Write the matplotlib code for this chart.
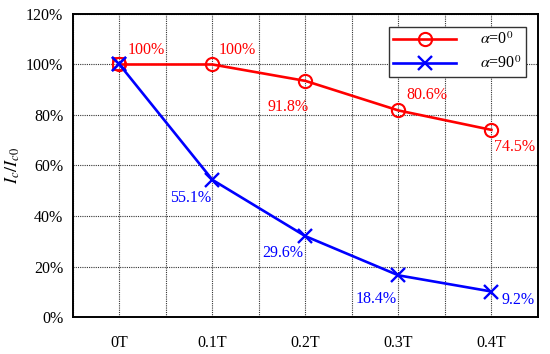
import matplotlib
matplotlib.use("Agg")
import matplotlib.pyplot as plt
from matplotlib.ticker import MultipleLocator, FuncFormatter
import numpy as np

plt.rcParams.update({
    'font.family'     : ['Liberation Serif', 'DejaVu Serif'],
    'font.size'       : 11.5,
    'mathtext.fontset': 'stix',
})

# data
fields     = ["0T", "0.1T", "0.2T", "0.3T", "0.4T"]
ratio_0    = [100.0, 100.0, 93.5, 81.8, 74.1]
ratio_90   = [100.0, 54.3, 32.0, 16.5, 10.1]
labels_0   = ["100%", "100%", "91.8%", "80.6%", "74.5%"]
labels_90  = [None, "55.1%", "29.6%", "18.4%", "9.2%"]

# label offsets (pixels) relative to each point
offs_0  = [(27, 14), (25, 14), (-17, -26), (28, 15), (23, -17)]
offs_90 = [None, (-22, -18), (-23, -17), (-22, -24), (27, -8)]

fig = plt.figure(figsize=(5.5, 3.54), dpi=100)
ax = fig.add_axes([0.1327, 0.1045, 0.8453, 0.856])

x = np.arange(len(fields))
ax.plot(x, ratio_0, color='red', lw=1.9, marker='o', ms=9.5, mfc='none',
        mec='red', mew=1.5, label=r'$\alpha$=0$^0$', zorder=3)
ax.plot(x, ratio_90, color='blue', lw=1.9, marker='x', ms=9.5,
        mec='blue', mew=1.7, label=r'$\alpha$=90$^0$', zorder=3)
ax.plot([0], [100], marker='s', ms=9, mfc='none', mec='red', mew=1.3, zorder=2)
ax.plot([0], [100], marker='x', ms=9.5, mec='blue', mew=1.7, zorder=4)

for xi, yi, lab, off in zip(x, ratio_0, labels_0, offs_0):
    ax.annotate(lab, (xi, yi), xytext=off, textcoords='offset pixels',
                ha='center', va='center', color='red')
for xi, yi, lab, off in zip(x, ratio_90, labels_90, offs_90):
    if lab is None:
        continue
    ax.annotate(lab, (xi, yi), xytext=off, textcoords='offset pixels',
                ha='center', va='center', color='blue')

ax.set_xlim(-0.5, 4.5)
ax.set_ylim(0, 120)
ax.set_xticks(x)
ax.set_xticklabels(fields)
ax.xaxis.set_minor_locator(MultipleLocator(0.5))
ax.yaxis.set_major_locator(MultipleLocator(20))
ax.yaxis.set_major_formatter(FuncFormatter(lambda v, p: f"{v:.0f}%"))
ax.tick_params(which='both', length=0)
ax.tick_params(axis='x', pad=13)
ax.tick_params(axis='y', pad=7)
ax.grid(True, which='both', color='#333333', linestyle=(0, (1, 1)), lw=0.8)
ax.set_axisbelow(True)
for s in ax.spines.values():
    s.set_linewidth(1.4)

ax.set_ylabel(r'$I_c/I_{c0}$', fontsize=13, labelpad=3)

leg = ax.legend(loc='upper right', bbox_to_anchor=(0.974, 0.957), fontsize=11.5,
                handlelength=3.9, handletextpad=1.5, labelspacing=0.45,
                fancybox=False, framealpha=1, edgecolor='#333333',
                borderpad=0.3, borderaxespad=0)
leg.get_frame().set_linewidth(1.0)

fig.savefig("out.png", dpi=100)
